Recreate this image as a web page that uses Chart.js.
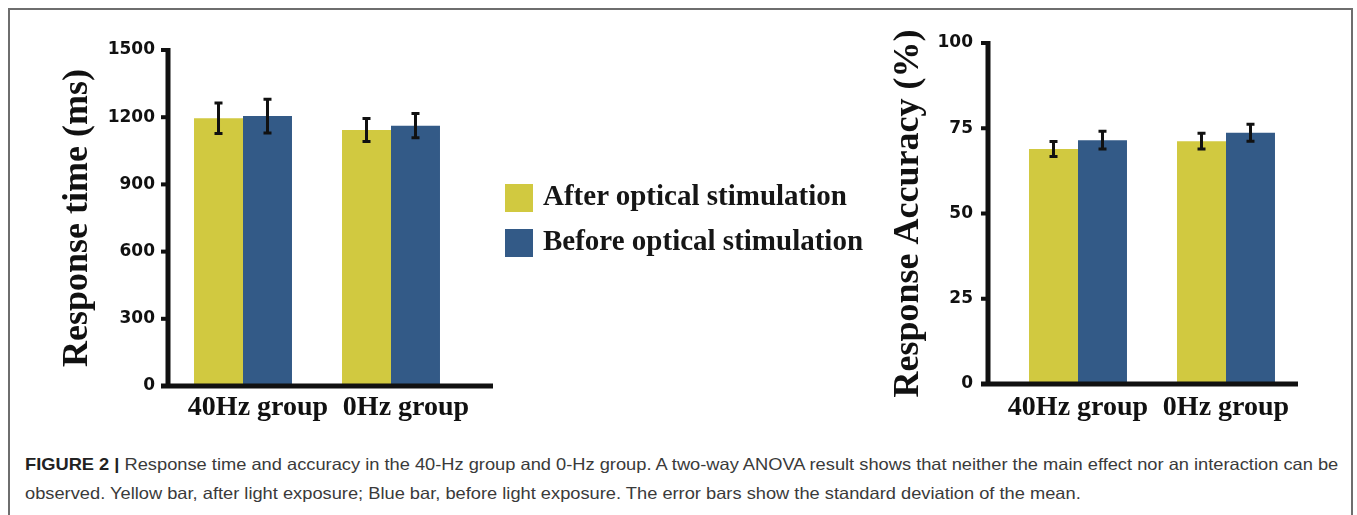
<!DOCTYPE html>
<html>
<head>
<meta charset="utf-8">
<script src="https://cdn.jsdelivr.net/npm/chart.js@4.4.1/dist/chart.umd.min.js"></script>
<style>
  html, body { margin: 0; padding: 0; background: #fff; }
  #page { position: relative; width: 1357px; height: 515px; overflow: hidden; }
  #frame { position: absolute; left: 8px; top: 8px; width: 1345px; height: 600px;
           border: 2px solid #6e6e6e; border-bottom: none; box-sizing: border-box; }
  canvas { position: absolute; top: 0; }
  #rt { left: 0; }
  #acc { left: 850px; }
  .sw { position: absolute; left: 505px; width: 28px; height: 28px; }
  .leg { position: absolute; left: 543px; font: bold 29px "Liberation Serif", serif;
         line-height: 1; color: #161616; white-space: nowrap; }
  .cap { position: absolute; left: 25px; font: 16.5px "Liberation Sans", Arial, sans-serif;
         line-height: 1; color: #3a3a3a; white-space: nowrap; transform-origin: 0 0; }
  .cap b { color: #222; }
</style>
</head>
<body>
<div id="page">
  <div id="frame"></div>
  <canvas id="rt" width="520" height="440"></canvas>
  <canvas id="acc" width="500" height="440"></canvas>

  <div class="sw" style="top:184px;background:#D1C940"></div>
  <div class="leg" style="top:181px">After optical stimulation</div>
  <div class="sw" style="top:229px;background:#335A87"></div>
  <div class="leg" style="top:226px">Before optical stimulation</div>

  <div class="cap" id="cap1" style="top:456px"><b>FIGURE 2 |</b> Response time and accuracy in the 40-Hz group and 0-Hz group. A two-way ANOVA result shows that neither the main effect nor an interaction can be</div>
  <div class="cap" id="cap2" style="top:485px">observed. Yellow bar, after light exposure; Blue bar, before light exposure. The error bars show the standard deviation of the mean.</div>
</div>

<script>
'use strict';

// ── Dati ────────────────────────────────────────────────────
const groups = ['40Hz group', '0Hz group'];
const seriesNames = ['After optical stimulation', 'Before optical stimulation'];

const rtAfter = [1195, 1143];
const rtAfterSd = [68, 51];
const rtBefore = [1205, 1162];
const rtBeforeSd = [75, 54];

const accAfter = [68.9, 71.2];
const accAfterSd = [2.2, 2.3];
const accBefore = [71.5, 73.7];
const accBeforeSd = [2.6, 2.5];

const rtTicks = { max: 1500, step: 300 };
const accTicks = { max: 100, step: 25 };

const YELLOW = '#D1C940';
const BLUE = '#335A87';
const INK = '#111';

// barre di errore (media ± sd)
const errorBars = {
  id: 'errorBars',
  afterDatasetsDraw(chart) {
    const ctx = chart.ctx, y = chart.scales.y;
    ctx.save();
    ctx.strokeStyle = INK;
    ctx.lineWidth = 3;
    chart.data.datasets.forEach((ds, i) => {
      chart.getDatasetMeta(i).data.forEach((bar, j) => {
        const v = ds.data[j], e = ds.errors[j];
        const y1 = y.getPixelForValue(v + e), y2 = y.getPixelForValue(v - e);
        ctx.beginPath();
        ctx.moveTo(bar.x, y1); ctx.lineTo(bar.x, y2);
        ctx.moveTo(bar.x - 4, y1); ctx.lineTo(bar.x + 4, y1);
        ctx.moveTo(bar.x - 4, y2); ctx.lineTo(bar.x + 4, y2);
        ctx.stroke();
      });
    });
    ctx.restore();
  }
};

// assi spessi stile figura
const axisLines = {
  id: 'axisLines',
  afterDatasetsDraw(chart, args, opts) {
    const { ctx, chartArea: a } = chart;
    const y = chart.scales.y;
    const ax = a.left - opts.gap;
    const top = y.getPixelForValue(y.max);
    ctx.save();
    ctx.fillStyle = INK;
    ctx.fillRect(ax - 2.5, top - 2, 5, a.bottom - top + 4);
    y.ticks.forEach(t => {
      const py = y.getPixelForValue(t.value);
      ctx.fillRect(ax - 7, py - 2, 7, 4);
    });
    ctx.fillRect(ax - 7, a.bottom - 2.5, a.right + opts.extend - ax + 7, 5);
    ctx.restore();
  }
};

function makeChart(id, after, afterSd, before, beforeSd, cfg) {
  const ctx = document.getElementById(id).getContext('2d');
  return new Chart(ctx, {
    type: 'bar',
    data: {
      labels: groups,
      datasets: [
        { label: seriesNames[0], data: after, errors: afterSd, backgroundColor: YELLOW },
        { label: seriesNames[1], data: before, errors: beforeSd, backgroundColor: BLUE }
      ]
    },
    plugins: [errorBars, axisLines],
    options: {
      responsive: false,
      animation: false,
      devicePixelRatio: 1,
      categoryPercentage: 0.662,
      barPercentage: 1.0,
      layout: { padding: cfg.padding },
      plugins: {
        legend: { display: false },
        tooltip: { enabled: false },
        axisLines: { gap: cfg.gap, extend: cfg.extend }
      },
      scales: {
        x: {
          grid: { display: false, drawTicks: false },
          border: { display: false },
          ticks: {
            color: INK, padding: cfg.xPad, labelOffset: cfg.labelOffset,
            font: { family: "'Liberation Serif', serif", weight: 'bold', size: 28 }
          },
          afterFit: s => { s.height = 40; }
        },
        y: {
          min: 0, max: cfg.ticks.max,
          grid: { display: false, drawTicks: false },
          border: { display: false },
          ticks: {
            stepSize: cfg.ticks.step, color: INK, padding: cfg.yPad,
            callback: v => String(v),
            font: { family: "'DejaVu Sans', sans-serif", weight: 'bold', size: 17 }
          },
          title: {
            display: true, text: cfg.title, color: INK,
            padding: { top: 0, bottom: 0 },
            font: { family: "'Liberation Serif', serif", weight: 'bold', size: 36, lineHeight: 1 }
          },
          afterFit: s => { s.width = cfg.yWidth; }
        }
      }
    }
  });
}

makeChart('rt', rtAfter, rtAfterSd, rtBefore, rtBeforeSd, {
  title: 'Response time (ms)', ticks: rtTicks,
  padding: { left: 60, right: 55, top: 50, bottom: 14 },
  yWidth: 109, yPad: 14, xPad: 5, labelOffset: 15, gap: 1, extend: 28
});

makeChart('acc', accAfter, accAfterSd, accBefore, accBeforeSd, {
  title: 'Response Accuracy (%)', ticks: accTicks,
  padding: { left: 41, right: 50, top: 43, bottom: 16 },
  yWidth: 113, yPad: 31, xPad: 7, labelOffset: 0, gap: 16, extend: -2
});

// didascalia: allarga il testo come nella figura
const cap1 = document.getElementById('cap1');
const k = 1313 / cap1.offsetWidth;
document.querySelectorAll('.cap').forEach(el => { el.style.transform = 'scaleX(' + k + ')'; });
</script>
</body>
</html>
